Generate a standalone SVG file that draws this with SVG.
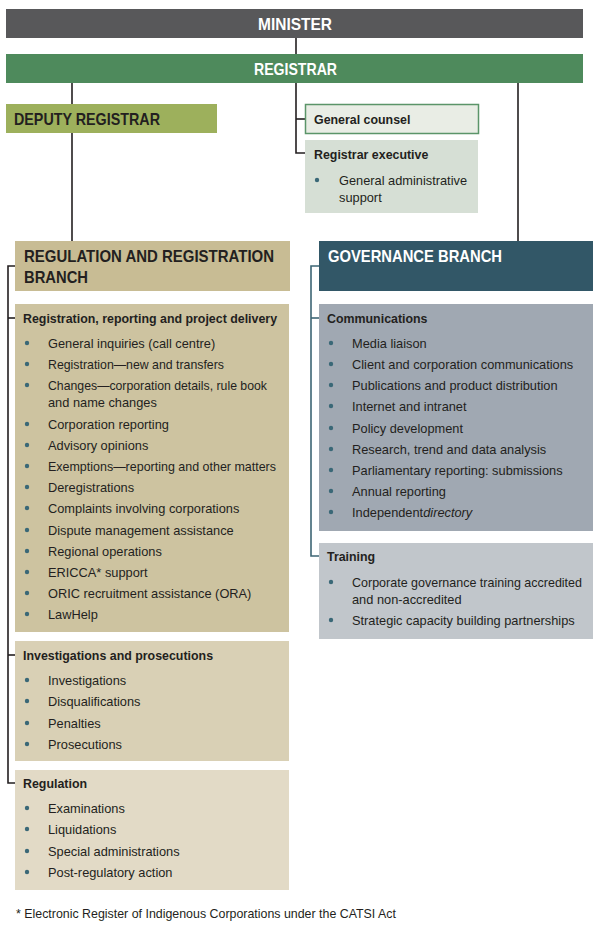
<svg xmlns="http://www.w3.org/2000/svg" width="600" height="938" viewBox="0 0 600 938">
<style>
text{font-family:"Liberation Sans",Arial,sans-serif;fill:#231f20}
.t{font-size:16.5px;font-weight:bold}
.w{fill:#fff}
.h{font-size:12.4px;font-weight:bold}
.b{font-size:12.8px}
.f{font-size:12.4px}
.dot{fill:#3a6877}
.ln{stroke:#231f20;stroke-width:1.6;fill:none}
.lt{stroke:#3d6574;stroke-width:1.6;fill:none}
</style>
<rect width="600" height="938" fill="#fff"/>
<g id="connectors">
<line class="ln" x1="296" y1="38" x2="296" y2="54"/>
<line class="ln" x1="72" y1="83" x2="72" y2="104"/>
<line class="ln" x1="72" y1="133" x2="72" y2="241"/>
<polyline class="ln" points="296,83 296,153 305,153"/>
<line class="ln" x1="296" y1="119" x2="305" y2="119"/>
<line class="ln" x1="518" y1="83" x2="518" y2="241"/>
<polyline class="ln" points="15,266 8,266 8,783 15,783"/>
<line class="ln" x1="8" y1="318" x2="15" y2="318"/>
<line class="ln" x1="8" y1="655" x2="15" y2="655"/>
<polyline class="lt" points="319,266 311,266 311,556 319,556"/>
<line class="lt" x1="311" y1="318" x2="319" y2="318"/>
</g>
<g id="minister">
<rect x="6" y="9" width="577" height="29" fill="#58585a"/>
<text class="t w" x="295" y="29.5" text-anchor="middle" textLength="74" lengthAdjust="spacingAndGlyphs">MINISTER</text>
</g>
<g id="registrar">
<rect x="6" y="54" width="577" height="29" fill="#4e8a5c"/>
<text class="t w" x="295.5" y="75" text-anchor="middle" textLength="83" lengthAdjust="spacingAndGlyphs">REGISTRAR</text>
</g>
<g id="deputy-registrar">
<rect x="6" y="104" width="211" height="29" fill="#9db05c"/>
<text class="t" x="14" y="125" textLength="146" lengthAdjust="spacingAndGlyphs">DEPUTY REGISTRAR</text>
</g>
<g id="general-counsel">
<rect x="305.5" y="104.5" width="173" height="29" fill="#e9ede5" stroke="#5b9569" stroke-width="1.5"/>
<text class="h" x="314" y="123.5">General counsel</text>
</g>
<g id="registrar-executive">
<rect x="305" y="140" width="173" height="73" fill="#d6dfd5"/>
<text class="h" x="314" y="158.5">Registrar executive</text>
<circle class="dot" cx="317" cy="180" r="2.2"/>
<text class="b" x="339" y="184.5">General administrative</text>
<text class="b" x="339" y="201.5">support</text>
</g>
<g id="regulation-registration-branch">
<rect x="15" y="241" width="275" height="50" fill="#c8bc94"/>
<text class="t" x="24" y="262" textLength="250" lengthAdjust="spacingAndGlyphs">REGULATION AND REGISTRATION</text>
<text class="t" x="24" y="283" textLength="64" lengthAdjust="spacingAndGlyphs">BRANCH</text>
</g>
<g id="governance-branch">
<rect x="319" y="241" width="274" height="50" fill="#325767"/>
<text class="t w" x="328" y="262" textLength="174" lengthAdjust="spacingAndGlyphs">GOVERNANCE BRANCH</text>
</g>
<g id="registration-reporting">
<rect x="15" y="304" width="274" height="328" fill="#cdc3a0"/>
<text class="h" x="23" y="322.5">Registration, reporting and project delivery</text>
<g class="dot">
<circle cx="27" cy="343" r="2.2"/><circle cx="27" cy="364" r="2.2"/><circle cx="27" cy="385" r="2.2"/><circle cx="27" cy="424" r="2.2"/><circle cx="27" cy="445" r="2.2"/><circle cx="27" cy="466" r="2.2"/><circle cx="27" cy="487" r="2.2"/><circle cx="27" cy="508" r="2.2"/><circle cx="27" cy="530" r="2.2"/><circle cx="27" cy="551" r="2.2"/><circle cx="27" cy="572" r="2.2"/><circle cx="27" cy="593" r="2.2"/><circle cx="27" cy="614" r="2.2"/>
</g>
<text class="b" x="48" y="347.5">General inquiries (call centre)</text>
<text class="b" x="48" y="368.5" textLength="176" lengthAdjust="spacingAndGlyphs">Registration—new and transfers</text>
<text class="b" x="48" y="389.5" textLength="219" lengthAdjust="spacingAndGlyphs">Changes—corporation details, rule book</text>
<text class="b" x="48" y="406.5">and name changes</text>
<text class="b" x="48" y="428.5">Corporation reporting</text>
<text class="b" x="48" y="449.5">Advisory opinions</text>
<text class="b" x="48" y="470.5" textLength="228" lengthAdjust="spacingAndGlyphs">Exemptions—reporting and other matters</text>
<text class="b" x="48" y="491.5">Deregistrations</text>
<text class="b" x="48" y="512.5">Complaints involving corporations</text>
<text class="b" x="48" y="534.5">Dispute management assistance</text>
<text class="b" x="48" y="555.5">Regional operations</text>
<text class="b" x="48" y="576.5">ERICCA* support</text>
<text class="b" x="48" y="597.5">ORIC recruitment assistance (ORA)</text>
<text class="b" x="48" y="618.5">LawHelp</text>
</g>
<g id="investigations-prosecutions">
<rect x="15" y="641" width="274" height="120" fill="#d9d0b5"/>
<text class="h" x="23" y="659.5">Investigations and prosecutions</text>
<g class="dot">
<circle cx="27" cy="680" r="2.2"/><circle cx="27" cy="701" r="2.2"/><circle cx="27" cy="723" r="2.2"/><circle cx="27" cy="744" r="2.2"/>
</g>
<text class="b" x="48" y="684.5">Investigations</text>
<text class="b" x="48" y="705.5">Disqualifications</text>
<text class="b" x="48" y="727.5">Penalties</text>
<text class="b" x="48" y="748.5">Prosecutions</text>
</g>
<g id="regulation">
<rect x="15" y="770" width="274" height="120" fill="#e2dac6"/>
<text class="h" x="23" y="787.5">Regulation</text>
<g class="dot">
<circle cx="27" cy="808" r="2.2"/><circle cx="27" cy="829" r="2.2"/><circle cx="27" cy="851" r="2.2"/><circle cx="27" cy="872" r="2.2"/>
</g>
<text class="b" x="48" y="812.5">Examinations</text>
<text class="b" x="48" y="833.5">Liquidations</text>
<text class="b" x="48" y="855.5">Special administrations</text>
<text class="b" x="48" y="876.5">Post-regulatory action</text>
</g>
<g id="communications">
<rect x="319" y="304" width="274" height="227" fill="#a0a8b2"/>
<text class="h" x="327" y="322.5">Communications</text>
<g class="dot">
<circle cx="331" cy="343" r="2.2"/><circle cx="331" cy="364" r="2.2"/><circle cx="331" cy="385" r="2.2"/><circle cx="331" cy="406" r="2.2"/><circle cx="331" cy="428" r="2.2"/><circle cx="331" cy="449" r="2.2"/><circle cx="331" cy="470" r="2.2"/><circle cx="331" cy="491" r="2.2"/><circle cx="331" cy="512" r="2.2"/>
</g>
<text class="b" x="352" y="347.5">Media liaison</text>
<text class="b" x="352" y="368.5">Client and corporation communications</text>
<text class="b" x="352" y="389.5">Publications and product distribution</text>
<text class="b" x="352" y="410.5">Internet and intranet</text>
<text class="b" x="352" y="432.5">Policy development</text>
<text class="b" x="352" y="453.5">Research, trend and data analysis</text>
<text class="b" x="352" y="474.5">Parliamentary reporting: submissions</text>
<text class="b" x="352" y="495.5">Annual reporting</text>
<text class="b" x="352" y="516.5">Independent<tspan font-style="italic">directory</tspan></text>
</g>
<g id="training">
<rect x="319" y="543" width="274" height="96" fill="#c1c6cb"/>
<text class="h" x="327" y="560.5">Training</text>
<g class="dot">
<circle cx="331" cy="582" r="2.2"/><circle cx="331" cy="620" r="2.2"/>
</g>
<text class="b" x="352" y="586.5" textLength="230" lengthAdjust="spacingAndGlyphs">Corporate governance training accredited</text>
<text class="b" x="352" y="603.5">and non-accredited</text>
<text class="b" x="352" y="624.5">Strategic capacity building partnerships</text>
</g>
<text class="f" x="16" y="917.5">* Electronic Register of Indigenous Corporations under the CATSI Act</text>
</svg>
